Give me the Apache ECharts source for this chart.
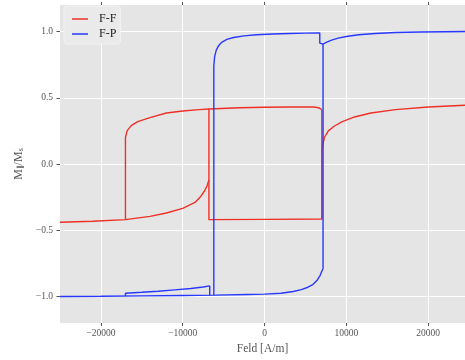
<!DOCTYPE html>
<html>
<head>
<meta charset="utf-8">
<script src="https://cdn.jsdelivr.net/npm/echarts@6/dist/echarts.min.js"></script>
<style>
  html, body { margin: 0; padding: 0; background: #fff; }
  #chart { width: 465px; height: 360px; }
</style>
</head>
<body>
<div id="chart"></div>
<script>
// tick values
const fieldTicks = [-20000, -10000, 0, 10000, 20000]
const magTicks = [-1, -0.5, 0, 0.5, 1]

// F-F branches (field in A/m, M/Ms)
const ffLeftField = [-25000, -21000, -17000, -14000, -12000, -10000, -8500, -7800, -7300, -7000, -6800]
const ffLeftM = [-0.44, -0.432, -0.42, -0.395, -0.37, -0.335, -0.29, -0.245, -0.2, -0.16, -0.12]
const ffTopField = [-17000, -17000, -16800, -16300, -15500, -14000, -12000, -10000, -8000, -6800, -3000, 0, 3000, 6000, 6600, 7000]
const ffTopM = [-0.42, 0.2, 0.25, 0.29, 0.32, 0.35, 0.385, 0.4, 0.41, 0.415, 0.425, 0.428, 0.43, 0.43, 0.425, 0.41]
const ffInnerField = [7000, 7000, 0, -6800, -6800]
const ffInnerM = [0.41, -0.415, -0.418, -0.42, 0.415]
const ffRightField = [7000, 7000, 7300, 7800, 8500, 9500, 11000, 13000, 16000, 20000, 25000]
const ffRightM = [-0.415, 0.1, 0.2, 0.25, 0.285, 0.32, 0.355, 0.385, 0.41, 0.43, 0.445]

// F-P branches
const fpBottomField = [-25000, -20000, -15000, -10000, -6000, -2000, 0, 2000, 3500, 4500, 5300, 5900, 6400, 6800, 7000, 7150]
const fpBottomM = [-1.0, -0.998, -0.995, -0.992, -0.99, -0.985, -0.982, -0.975, -0.962, -0.948, -0.93, -0.91, -0.88, -0.84, -0.81, -0.79]
const fpWedgeField = [-17000, -17000, -15000, -13000, -11000, -9000, -7500, -6700, -6700]
const fpWedgeM = [-0.996, -0.975, -0.968, -0.96, -0.95, -0.94, -0.928, -0.92, -0.99]
const fpUpperField = [-6200, -6200, -6100, -5900, -5600, -5200, -4600, -3800, -2500, -1000, 1000, 3000, 5000, 6750, 6750, 7150]
const fpUpperM = [-0.99, 0.74, 0.81, 0.86, 0.895, 0.92, 0.94, 0.955, 0.967, 0.975, 0.981, 0.985, 0.988, 0.99, 0.912, 0.905]
const fpRightField = [7150, 7150, 7600, 8200, 9000, 10000, 11500, 13500, 16000, 19000, 22000, 25000]
const fpRightM = [-0.79, 0.905, 0.92, 0.935, 0.95, 0.962, 0.975, 0.985, 0.992, 0.996, 0.998, 1.0]

const RED = '#ee3026'
const BLUE = '#2838ff'
const FONT = '"Liberation Serif", "DejaVu Serif", serif'

const pairs = (xs, ys) => xs.map((x, i) => [x, ys[i]])
const minus = (s) => String(s).replace('-', '\u2212')

const seg = (name, color, xs, ys) => ({
  name,
  type: 'line',
  data: pairs(xs, ys),
  symbol: 'none',
  smooth: false,
  animation: false,
  lineStyle: { color, width: 1.4 },
  itemStyle: { color },
})

const chart = echarts.init(document.getElementById('chart'), null, { renderer: 'canvas' })

const option = {
  backgroundColor: '#fff',
  animation: false,
  grid: {
    left: 60,
    right: 0,
    top: 5,
    bottom: 34,
    show: true,
    backgroundColor: '#e5e5e5',
    borderWidth: 0,
  },
  legend: {
    left: 64,
    top: 6,
    orient: 'vertical',
    data: [{ name: 'F-F', icon: 'rect' }, { name: 'F-P', icon: 'rect' }],
    itemWidth: 16,
    itemHeight: 1.5,
    itemGap: 3,
    padding: [7, 4, 4, 8],
    backgroundColor: '#eaeaea',
    borderColor: '#f2f2f2',
    borderWidth: 1,
    borderRadius: 3,
    textStyle: {
      fontFamily: FONT,
      fontSize: 12,
      lineHeight: 12,
      color: '#222',
      padding: [0, 0, 0, 6],
    },
  },
  xAxis: [{
    type: 'value',
    min: -25000,
    max: 24500,
    name: 'Feld [A/m]',
    nameLocation: 'middle',
    nameGap: 20,
    nameTextStyle: { fontFamily: FONT, fontSize: 11.5, color: '#555' },
    axisLine: { show: false, onZero: false },
    axisTick: { show: true, length: 3, customValues: fieldTicks, lineStyle: { color: '#555' } },
    axisLabel: {
      customValues: fieldTicks,
      margin: 5,
      fontFamily: FONT,
      fontSize: 9.5,
      color: '#555',
      formatter: (v) => minus(v),
    },
    splitLine: { show: true, lineStyle: { color: '#fff', width: 1 } },
  }, {
    type: 'value',
    position: 'top',
    min: -25000,
    max: 24500,
    axisLine: { show: false, onZero: false },
    axisTick: { show: true, length: 3, customValues: fieldTicks, lineStyle: { color: '#555' } },
    axisLabel: { show: false },
    splitLine: { show: false },
  }],
  yAxis: {
    type: 'value',
    min: -1.2,
    max: 1.2,
    name: 'M{s|\u2225}/M{s|s}',
    nameLocation: 'middle',
    nameGap: 30,
    nameTextStyle: {
      fontFamily: FONT,
      fontSize: 12,
      color: '#555',
      rich: {
        s: { fontFamily: FONT, fontSize: 8, color: '#555', verticalAlign: 'bottom', padding: [5, 0, 0, 0] },
      },
    },
    axisLine: { show: false, onZero: false },
    axisTick: { show: true, length: 3.5, customValues: magTicks, lineStyle: { color: '#555' } },
    axisLabel: {
      customValues: magTicks,
      margin: 7,
      fontFamily: FONT,
      fontSize: 9.5,
      color: '#555',
      formatter: (v) => minus(v.toFixed(1)),
    },
    splitLine: { show: true, lineStyle: { color: '#fff', width: 1 } },
  },
  series: [
    seg('F-F', RED, ffLeftField, ffLeftM),
    seg('F-F', RED, ffTopField, ffTopM),
    seg('F-F', RED, ffInnerField, ffInnerM),
    seg('F-F', RED, ffRightField, ffRightM),
    seg('F-P', BLUE, fpBottomField, fpBottomM),
    seg('F-P', BLUE, fpWedgeField, fpWedgeM),
    seg('F-P', BLUE, fpUpperField, fpUpperM),
    seg('F-P', BLUE, fpRightField, fpRightM),
  ],
}

chart.setOption(option)
</script>
</body>
</html>
